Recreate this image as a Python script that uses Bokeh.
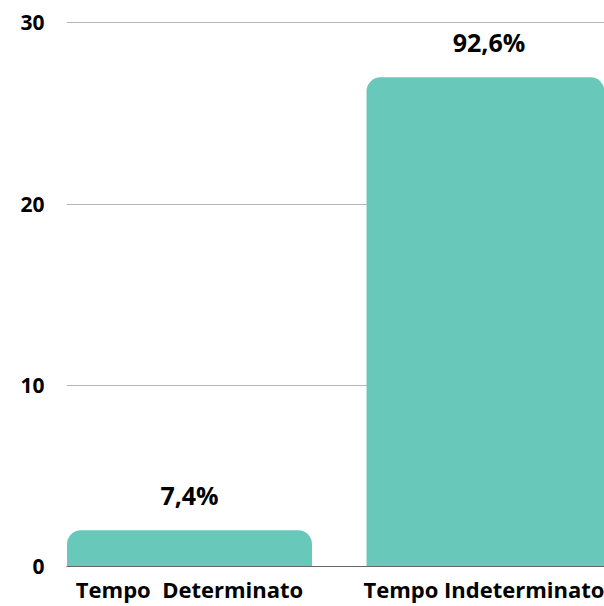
from bokeh.plotting import figure
from bokeh.models import Range1d, FixedTicker, ColumnDataSource
from bokeh.embed import file_html
from bokeh.resources import INLINE
from bokeh.core.properties import value

categories = ["Tempo \u00a0Determinato", "Tempo Indeterminato"]
counts = [2, 27]
pct_labels = ["7,4%", "92,6%"]
y_ticks = [0, 10, 20, 30]

xs = [i + 0.5 for i in range(len(categories))]
src = ColumnDataSource(dict(x=xs, top=counts, label=pct_labels))

p = figure(width=604, height=606, output_backend="svg", toolbar_location=None,
           x_range=Range1d(0.0893, 1.8856), y_range=Range1d(0, 31.24),
           min_border_left=66, min_border_right=0, min_border_top=0, min_border_bottom=38)
p.outline_line_color = None
p.background_fill_color = "white"
p.border_fill_color = "white"

p.vbar(x="x", top="top", bottom=0, width=0.818, source=src,
       fill_color="#68C9BA", line_color=None, border_radius=(14, 14, 0, 0))

p.text(x="x", y="top", text="label", source=src, y_offset=-35,
       text_align="center", text_baseline="middle",
       text_font=value("Open Sans"), text_font_style="bold",
       text_font_size="25px", text_color="#000000")

p.xaxis.ticker = FixedTicker(ticks=xs)
p.xaxis.major_label_overrides = {x: c for x, c in zip(xs, categories)}
p.xaxis.major_tick_line_color = None
p.xaxis.minor_tick_line_color = None
p.xaxis.axis_line_color = "#666666"
p.xaxis.axis_line_width = 1
p.xaxis.major_label_standoff = 1
p.xaxis.major_label_text_font = "Open Sans"
p.xaxis.major_label_text_font_style = "bold"
p.xaxis.major_label_text_font_size = "22px"
p.xaxis.major_label_text_color = "#000000"

p.yaxis.ticker = FixedTicker(ticks=y_ticks)
p.yaxis.axis_line_color = None
p.yaxis.major_tick_line_color = None
p.yaxis.minor_tick_line_color = None
p.yaxis.major_label_standoff = 16
p.yaxis.major_label_text_font = "Open Sans"
p.yaxis.major_label_text_font_style = "bold"
p.yaxis.major_label_text_font_size = "21px"
p.yaxis.major_label_text_color = "#000000"

p.xgrid.grid_line_color = None
p.ygrid.grid_line_color = "#b5b5b5"
p.ygrid.grid_line_width = 1

open("out.html", "w").write(file_html(p, INLINE))
